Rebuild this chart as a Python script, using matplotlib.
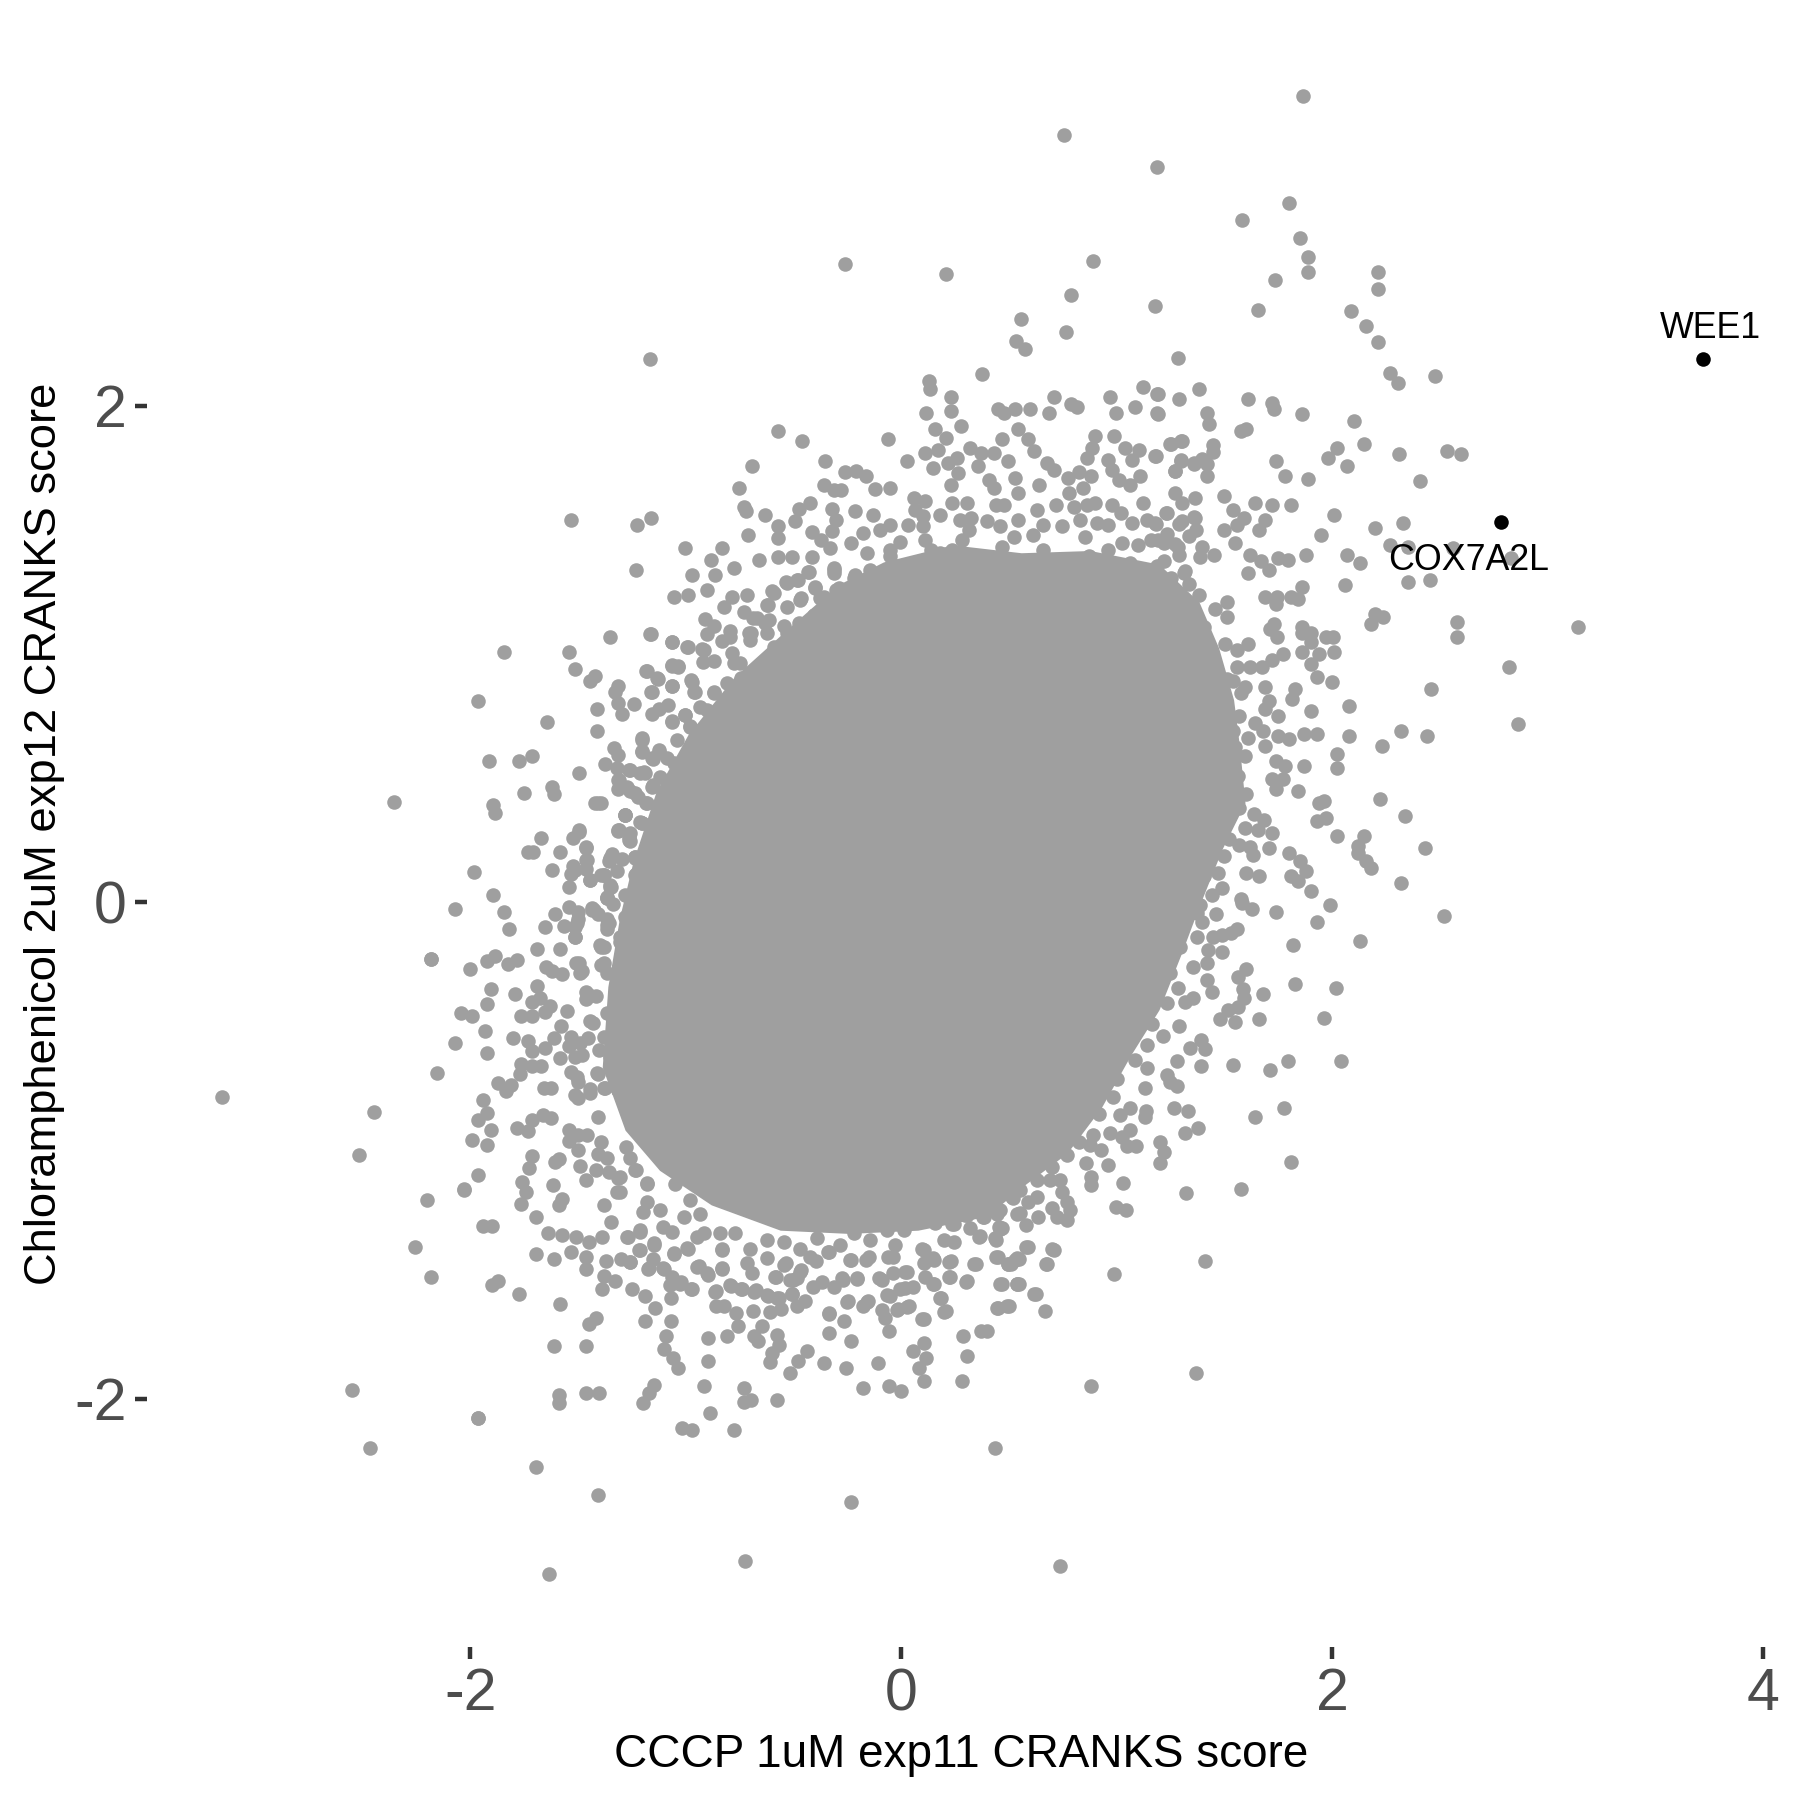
import numpy as np
import matplotlib
matplotlib.use("Agg")
import matplotlib.pyplot as plt

plt.rcParams['font.family'] = ['Liberation Sans', 'DejaVu Sans']

x_ticks = [-2, 0, 2, 4]
y_ticks = [-2, 0, 2]
x_tick_labels = ['-2', '0', '2', '4']
y_tick_labels = ['-2', '0', '2']
x_title = 'CCCP 1uM exp11 CRANKS score'
y_title = 'Chloramphenicol 2uM exp12 CRANKS score'

hit_names = ['WEE1', 'COX7A2L']
hit_x = [3.72, 2.786]
hit_y = [2.187, 1.531]
hit_label_x = [3.755, 2.632]
hit_label_y = [2.31, 1.377]

# the middle of the cloud is solid grey, single points can't be read there,
# so its outline is traced by eye and filled
core_x = [-.08, .24, .559, .879, 1.199, 1.385, 1.476, 1.545, 1.572, 1.598, 1.492, 1.385, 1.305, 1.199, 1.066, .932, .772,
          .559, .40, .08, -.24, -.559, -.879, -1.119, -1.279, -1.385, -1.359, -1.305, -1.241, -1.135, -.986, -.772, -.506, -.293]
core_y = [1.369, 1.438, 1.406, 1.415, 1.36, 1.207, 1.022, .814, .629, .398, .213, -.018, -.203, -.435, -.62, -.828, -1.013,
          -1.151, -1.267, -1.323, -1.336, -1.323, -1.221, -1.082, -.92, -.666, -.342, -.065, .166, .444, .675, .906, 1.114, 1.276]

outlier_pts = [
    (1.865, 3.246), (.757, 3.089), (1.188, 2.96), (1.80, 2.816), (1.582, 2.747), (1.849, 2.677), (1.886, 2.6),
    (1.886, 2.54), (.89, 2.585), (-.261, 2.571), (.208, 2.53), (1.737, 2.506), (2.211, 2.539), (2.211, 2.469),
    (.788, 2.446), (1.177, 2.4), (1.657, 2.386), (2.088, 2.381), (2.158, 2.321), (2.211, 2.257), (.554, 2.349),
    (.767, 2.298), (.533, 2.261), (.575, 2.229), (1.284, 2.192), (-1.167, 2.187), (2.27, 2.132), (2.307, 2.09),
    (2.477, 2.118), (2.52, -.055), (2.131, -.157), (2.019, -.347), (1.827, -.328), (1.961, -.467), (2.04, -.638),
    (1.795, -.638), (1.71, -.675), (1.54, -.657), (1.779, -.828), (1.641, -.865), (1.811, -1.045), (1.577, -1.156),
    (1.321, -1.17), (1.412, -1.447), (.986, -1.498), (1.369, -1.896), (.879, -1.947), (.437, -2.197), (.735, -2.673),
    (-.234, -2.414), (-.725, -2.654), (-1.636, -2.705), (-1.406, -2.386), (-1.694, -2.275), (-2.467, -2.197),
    (-2.547, -1.965), (-1.966, -2.076), (-3.154, -.786), (-2.445, -.846), (-2.515, -1.017), (-2.355, .402),
    (-2.184, -.227), (-2.152, -.689), (-2.2, -1.198), (-2.254, -1.387), (-2.184, -1.508), (-2.03, -1.156),
]

right_pts = [
    (1.380, 2.066), (1.190, 2.046), (1.290, 2.028), (1.190, 1.968), (1.609, 2.028), (1.719, 2.01), (1.730, 1.988),
    (1.861, 1.968), (1.419, 1.97), (1.430, 1.928), (2.100, 1.938), (1.578, 1.898), (1.601, 1.908), (2.150, 1.848),
    (2.021, 1.828), (1.980, 1.788), (2.071, 1.757), (2.309, 1.807), (2.531, 1.818), (2.600, 1.807), (2.409, 1.697),
    (1.738, 1.777), (1.780, 1.717), (1.890, 1.707), (1.247, 1.848), (1.301, 1.858), (1.182, 1.797), (1.449, 1.843),
    (1.449, 1.813), (1.299, 1.777), (1.270, 1.737), (1.357, 1.767), (1.395, 1.787), (1.419, 1.767), (1.419, 1.717),
    (1.499, 1.637), (1.640, 1.609), (1.719, 1.599), (1.809, 1.599), (1.540, 1.579), (1.592, 1.549), (1.559, 1.519),
    (1.499, 1.499), (1.690, 1.539), (1.659, 1.499), (1.549, 1.448), (2.009, 1.559), (1.950, 1.479), (2.200, 1.509),
    (2.329, 1.529), (2.269, 1.438), (2.352, 1.433), (2.560, 1.428), (2.829, 1.388), (1.877, 1.398), (2.071, 1.398),
    (2.130, 1.368), (2.352, 1.290), (2.452, 1.298), (2.059, 1.280), (1.617, 1.398), (1.671, 1.375), (1.748, 1.388),
    (1.794, 1.378), (1.609, 1.325), (1.709, 1.340), (1.861, 1.270), (1.688, 1.230), (1.742, 1.230), (1.809, 1.230),
    (1.842, 1.220), (1.738, 1.200), (1.511, 1.210), (1.457, 1.180), (1.511, 1.150), (2.200, 1.160), (2.234, 1.150),
    (2.180, 1.120), (2.581, 1.130), (2.581, 1.069), (3.141, 1.109), (1.730, 1.120), (1.713, 1.100), (1.742, 1.069),
    (1.861, 1.109), (1.861, 1.083), (1.902, 1.083), (1.902, 1.049), (1.973, 1.069), (2.003, 1.069), (2.009, 1.009),
    (1.940, .999), (1.861, 1.009), (1.902, .959), (1.930, .909), (1.999, .889), (2.821, .949), (2.461, .859),
    (2.080, .789), (2.862, .719), (2.321, .689), (2.440, .669), (2.080, .669), (2.231, .628), (2.021, .598),
    (2.021, .540), (1.871, .548), (1.930, .679), (1.871, .679), (1.800, .659), (1.748, .669), (1.900, .769),
    (1.751, .749), (1.709, .809), (1.690, .779), (1.815, .819), (1.830, .861), (1.690, .869), (1.690, .630),
    (1.640, .722), (1.678, .689), (1.738, .568), (1.780, .548), (1.771, .498), (1.719, .498), (1.738, .458),
    (1.842, .448), (1.601, .438), (2.221, .418), (2.340, .348), (1.940, .398), (1.963, .408), (1.930, .328),
    (1.973, .338), (2.021, .268), (2.150, .268), (2.119, .228), (2.119, .198), (2.159, .168), (2.180, .138),
    (2.431, .219), (2.321, .079), (1.800, .198), (1.851, .168), (1.880, .127), (1.811, .107), (1.840, .087),
    (1.900, .047), (1.709, .219), (1.499, .188), (1.469, .117), (1.601, .117), (1.659, .107), (1.490, .059),
]

right_band_pts = [
    (1.232, 1.567), (1.357, 1.550), (1.290, 1.525), (1.184, 1.525), (1.232, 1.484), (1.367, 1.500), (1.338, 1.475),
    (1.270, 1.442), (1.193, 1.458), (1.396, 1.433), (1.453, 1.397), (1.386, 1.392), (1.290, 1.400), (1.222, 1.375),
    (1.184, 1.342), (1.319, 1.333), (1.251, 1.308), (1.338, 1.283), (1.232, 1.266), (1.382, 1.238), (1.280, 1.225),
    (1.261, 1.191), (1.309, 1.166), (1.193, 1.150), (1.251, 1.116), (1.357, 1.116), (1.405, 1.108), (1.184, 1.083),
    (1.319, 1.041), (1.390, 1.041), (1.440, 1.016), (1.501, 1.041), (1.559, 1.016), (1.611, 1.041), (1.251, 1.008),
    (1.213, .957), (1.405, .953), (1.367, .924), (1.559, .949), (1.617, .949), (1.674, .949), (1.723, .974),
    (1.771, 1.000), (1.376, .849), (1.511, .899), (1.540, .891), (1.598, .866), (1.578, .841), (1.472, .849),
    (1.482, .790), (1.569, .749), (1.386, .774), (1.463, .724), (1.386, .707), (1.540, .690), (1.611, .660),
    (1.549, .624), (1.598, .590), (1.492, .582), (1.405, .598), (1.338, .540), (1.521, .515), (1.563, .507),
    (1.444, .507), (1.367, .440), (1.463, .448), (1.521, .406), (1.569, .381), (1.636, .356), (1.684, .331),
    (1.723, .281), (1.655, .290), (1.598, .298), (1.521, .256), (1.453, .269), (1.367, .256), (1.569, .231),
    (1.617, .223), (1.632, .189), (1.396, .173), (1.347, .198), (1.270, .206), (1.405, .106), (1.319, .122),
    (1.376, .064), (1.444, .031), (1.578, .014), (1.222, .089),
]

lower_right_pts = [
    (1.820, -.172), (1.681, -.370), (1.661, -.469), (1.601, -.269), (1.561, -.300), (1.588, -.351), (1.591, -.387),
    (1.565, -.421), (1.519, -.434), (1.480, -.469), (1.550, -.481), (1.390, -.658), (1.409, -.591), (1.390, -.555),
    (1.341, -.589), (1.290, -.499), (1.217, -.539), (1.280, -.640), (1.233, -.696), (1.248, -.723), (1.282, -.740),
    (1.130, -.750), (1.140, -.669), (1.086, -.636), (1.140, -.575), (1.163, -.491), (1.124, -.488), (1.268, -.830),
    (1.330, -.840), (1.379, -.910), (1.319, -.928), (1.135, -.840), (1.132, -.864), (1.062, -.830), (1.016, -.857),
    (1.062, -.918), (.969, -.928), (1.024, -.945), (1.047, -.982), (1.090, -.982), (1.200, -.965), (1.222, -1.008),
    (1.200, -1.052), (1.030, -1.130), (.997, -1.227), (1.042, -1.240), (.959, -1.060), (.928, -.998), (.880, -1.106),
    (.880, -1.139), (.860, -1.049), (.889, -.938), (.823, -.965), (.877, -.978), (.768, -1.018), (.920, -.851),
    (.858, -.844), (.985, -.783), (1.000, -.710), (.699, -1.398), (.580, -1.390), (.671, -1.459), (.536, -1.435),
    (.498, -1.458), (.539, -1.538), (.618, -1.576), (.768, -1.280), (.722, -1.267), (.784, -1.240), (.768, -1.206),
    (.745, -1.166), (.699, -1.233), (.637, -1.267), (.580, -1.300), (.552, -1.253), (.629, -1.186), (.590, -1.206),
    (.521, -1.193), (.552, -1.159), (.529, -1.112), (.590, -1.065), (.560, -1.032), (.629, -1.119), (.691, -1.119),
    (.737, -1.119), (.699, -1.065), (.660, -.998), (.467, -1.314), (.459, -1.240), (1.418, -.313), (1.441, -.360),
    (1.356, -.387), (1.318, -.401), (1.287, -.347), (1.248, -.286), (1.233, -.407), (1.418, -.246), (1.356, -.260),
    (1.488, -.199), (1.426, -.192), (1.372, -.139), (1.294, -.179), (1.449, -.139), (1.488, -.132), (1.529, -.125),
    (1.560, -.109), (1.302, -.098), (1.233, -.152), (1.217, -.239), (1.461, -.047), (1.395, -.078), (1.372, -.045),
    (1.318, -.007), (1.387, -.011), (1.627, -.029), (1.581, -.004), (1.929, -.081), (1.740, -.041), (1.991, -.011),
]

bottom_pts = [
    (-1.94, -1.306), (-1.901, -1.306), (-1.762, -1.215), (-1.693, -1.266), (-1.588, -1.218), (-1.380, -1.219),
    (-1.345, -1.288), (-1.639, -1.331), (-1.573, -1.339), (-1.511, -1.347), (-1.451, -1.367), (-1.390, -1.347),
    (-1.530, -1.407), (-1.461, -1.427), (-1.461, -1.478), (-1.693, -1.416), (-1.611, -1.438), (-1.370, -1.446),
    (-1.299, -1.438), (-1.258, -1.449), (-1.268, -1.347), (-1.210, -1.327), (-1.214, -1.400), (-1.148, -1.373),
    (-1.154, -1.438), (-1.175, -1.478), (-1.380, -1.505), (-1.330, -1.526), (-1.390, -1.557), (-1.901, -1.540),
    (-1.872, -1.526), (-1.772, -1.577), (-1.581, -1.618), (-1.251, -1.557), (-1.191, -1.588), (-1.141, -1.636),
    (-1.069, -1.596), (-1.189, -1.687), (-1.069, -1.687), (-1.451, -1.698), (-1.418, -1.675), (-1.611, -1.787),
    (-1.461, -1.787), (-1.090, -1.747), (-1.100, -1.800), (-1.058, -1.835), (-1.038, -1.877), (-.897, -1.756),
    (-.809, -1.747), (-.897, -1.847), (-.917, -1.948), (-1.148, -1.944), (-1.168, -1.977), (-1.200, -2.016),
    (-1.461, -1.977), (-1.401, -1.977), (-1.590, -1.984), (-1.590, -2.018), (-1.963, -2.077), (-.728, -1.957),
    (-.728, -2.015), (-.697, -2.007), (-.577, -2.007), (-.888, -2.058), (-1.019, -2.117), (-.969, -2.126),
    (-.778, -2.126), (-.859, -1.564), (-.859, -1.628), (-.820, -1.626), (-.766, -1.655), (-.758, -1.706),
    (-.687, -1.647), (-.646, -1.706), (-.685, -1.747), (-.666, -1.768), (-.577, -1.743), (-.569, -1.783),
    (-.598, -1.816), (-.608, -1.850), (-.477, -1.849), (-.438, -1.807), (-.515, -1.897), (-.357, -1.857),
    (-.257, -1.877), (-.106, -1.857), (-.176, -1.957), (-.056, -1.947), (0.0, -1.967), (.106, -1.928), (.085, -1.877),
    (.114, -1.836), (.056, -1.807), (.106, -1.776), (.280, -1.930), (.307, -1.827), (.288, -1.747), (.369, -1.728),
    (.400, -1.728), (-.056, -1.728), (-.235, -1.767), (-.336, -1.736), (-.264, -1.687), (-.334, -1.658),
    (-.075, -1.675), (-.087, -1.642), (-.176, -1.626), (-.154, -1.606), (-.245, -1.608), (-.015, -1.639),
    (.035, -1.626), (.106, -1.677), (.207, -1.647), (.187, -1.596), (-.052, -1.588), (.154, -1.537), (.019, -1.555),
    (.228, -1.508), (.307, -1.526), (.467, -1.537), (.546, -1.537), (.627, -1.577), (.450, -1.636), (.500, -1.626),
    (.666, -1.647), (.677, -1.457), (.708, -1.400), (.589, -1.387), (.546, -1.438), (.508, -1.457), (.448, -1.427),
    (.347, -1.457), (.438, -1.360), (.367, -1.344), (.457, -1.317), (.386, -1.266), (.307, -1.258), (.245, -1.296),
    (.106, -1.400), (.029, -1.488), (-.087, -1.521), (-.203, -1.518), (-.270, -1.521), (-.367, -1.528),
    (-.444, -1.608), (-.508, -1.577), (-.482, -1.628), (-.569, -1.595), (-.608, -1.649), (-.560, -1.639),
    (-.617, -1.588), (-.743, -1.559), (-.675, -1.561), (-.791, -1.545), (-.975, -1.559), (-1.023, -1.528),
    (-1.071, -1.541), (-1.100, -1.478), (-.897, -1.501), (-.830, -1.478), (-.830, -1.400), (-.936, -1.467),
    (-1.052, -1.414), (-.994, -1.394), (-.535, -1.454), (-.579, -1.508), (-.463, -1.483), (-.502, -1.521),
    (-.396, -1.447), (-.232, -1.441), (-.164, -1.441), (-.338, -1.407), (-.038, -1.427), (.154, -1.441), (.232, -1.447),
]

bottom_band_pts = [
    (-1.180, -1.133), (-1.234, -1.079), (-1.304, -1.106), (-1.304, -1.166), (-1.180, -1.207), (-1.196, -1.247),
    (-1.118, -1.240), (-1.103, -1.307), (-1.211, -1.321), (-1.273, -1.350), (-1.219, -1.401), (-1.149, -1.381),
    (-1.258, -1.448), (-1.172, -1.475), (-1.103, -1.475), (-1.056, -1.415), (-.987, -1.395), (-1.064, -1.327),
    (-1.010, -1.267), (-.933, -1.254), (-.979, -1.200), (-1.049, -1.133), (-1.010, -1.079), (-.917, -1.334),
    (-.948, -1.348), (-.832, -1.395), (-.840, -1.334), (-.770, -1.334), (-.948, -1.468), (-.902, -1.495),
    (-.832, -1.475), (-1.026, -1.536), (-.971, -1.556), (-1.064, -1.509), (-.793, -1.542), (-.863, -1.569),
    (-.739, -1.556), (-.685, -1.569), (-.716, -1.455), (-.693, -1.495), (-.701, -1.395), (-.623, -1.435),
    (-.546, -1.462), (-.585, -1.509), (-.623, -1.583), (-.577, -1.596), (-.507, -1.576), (-.484, -1.515),
    (-.515, -1.522), (-.469, -1.489), (-.407, -1.549), (-.422, -1.428), (-.546, -1.368), (-.623, -1.361),
    (-.469, -1.395), (-.391, -1.354), (-.337, -1.408), (-.283, -1.381), (-.221, -1.334), (-.345, -1.280),
    (-.237, -1.442), (-.151, -1.428), (-.144, -1.361), (-.206, -1.515), (-.275, -1.515), (-.314, -1.549),
    (-.252, -1.609), (-.337, -1.656), (-.159, -1.609), (-.105, -1.515), (-.036, -1.495), (.019, -1.489),
    (-.059, -1.428), (-.028, -1.381), (-.066, -1.321), (.011, -1.321), (.042, -1.260), (.099, -1.395), (.104, -1.455),
    (.111, -1.509), (.150, -1.435), (.220, -1.448), (.220, -1.509), (.243, -1.368), (.197, -1.361), (.166, -1.213),
    (.158, -1.294), (.235, -1.296), (.297, -1.258), (.382, -1.267), (.320, -1.314), (.359, -1.350), (.436, -1.354),
    (.452, -1.307), (.444, -1.254), (.289, -1.186), (.375, -1.186), (.514, -1.186), (.452, -1.119), (.537, -1.254),
    (.440, -1.428), (.498, -1.458), (.529, -1.442), (.339, -1.458), (.300, -1.529), (.460, -1.538), (.537, -1.538),
    (.150, -1.536), (.057, -1.549), (-.004, -1.556), (-.066, -1.583), (.026, -1.630), (-.020, -1.643), (.181, -1.593),
    (.200, -1.650), (.099, -1.679), (.444, -1.636), (.490, -1.627),
]

left_pts = [
    (-1.841, 1.008), (-1.542, 1.008), (-1.352, 1.069), (-1.164, 1.079), (-1.063, 1.048), (-.992, 1.028),
    (-1.512, .939), (-1.423, .910), (-1.445, .890), (-1.178, .930), (-1.129, .899), (-1.063, .956), (-1.036, .948),
    (-1.063, .871), (-.969, .887), (-1.962, .810), (-1.312, .871), (-1.329, .848), (-1.312, .802), (-1.294, .759),
    (-1.240, .800), (-1.413, .779), (-1.413, .689), (-1.642, .728), (-1.161, .848), (-1.081, .793), (-1.125, .779),
    (-1.155, .760), (-1.063, .729), (-1.001, .756), (-.979, .709), (-1.201, .663), (-1.205, .609), (-1.152, .578),
    (-1.122, .612), (-1.333, .622), (-1.312, .594), (-1.374, .558), (-1.320, .540), (-1.912, .569), (-1.773, .569),
    (-1.713, .589), (-1.493, .520), (-1.262, .532), (-1.214, .520), (-1.187, .520), (-1.312, .494), (-1.312, .458),
    (-1.258, .447), (-1.223, .424), (-1.182, .400), (-1.152, .471), (-1.622, .463), (-1.612, .438), (-1.752, .440),
    (-1.892, .390), (-1.883, .358), (-1.423, .401), (-1.395, .398), (-1.281, .350), (-1.203, .321), (-1.312, .290),
    (-1.258, .278), (-1.258, .247), (-1.672, .259), (-1.493, .290), (-1.521, .259), (-1.462, .219), (-1.462, .170),
    (-1.734, .201), (-1.708, .201), (-1.582, .201), (-1.620, .130), (-1.521, .147), (-1.534, .112), (-1.462, .132),
    (-1.342, .193), (-1.356, .167), (-1.294, .173), (-1.235, .182), (-1.232, .112), (-1.320, .124), (-1.391, .108),
    (-1.445, .088), (-1.542, .062), (-1.983, .121), (-1.892, .030), (-2.072, -.029), (-1.843, -.040), (-1.821, -.109),
    (-1.605, -.049), (-1.652, -.100), (-1.542, -.018), (-1.498, -.038), (-1.436, -.023), (-1.409, -.046),
    (-1.365, -.069), (-1.365, -.107), (-1.565, -.095), (-1.516, -.138), (-1.498, -.069), (-1.347, .062),
    (-1.365, .016), (-1.338, -.007), (-2.184, -.229), (-2.002, -.268), (-1.922, -.238), (-1.883, -.218),
    (-1.823, -.249), (-1.782, -.231), (-1.692, -.189), (-1.582, -.189), (-1.649, -.261), (-1.622, -.277),
    (-1.573, -.289), (-1.510, -.246), (-1.480, -.277), (-1.395, -.180), (-1.391, -.254), (-1.903, -.349),
    (-1.793, -.368), (-1.692, -.338), (-1.921, -.408), (-1.711, -.400), (-1.676, -.385), (-1.631, -.419),
    (-1.654, -.442), (-1.553, -.439), (-1.462, -.362), (-1.462, -.389), (-1.418, -.377), (-2.043, -.448),
    (-1.992, -.459), (-1.764, -.459), (-1.711, -.459), (-1.578, -.497), (-1.933, -.519), (-1.803, -.548),
    (-1.732, -.557), (-1.711, -.600), (-1.653, -.588), (-1.612, -.548), (-1.534, -.543), (-1.445, -.477),
    (-1.454, -.546), (-2.072, -.568), (-1.921, -.608), (-1.582, -.627), (-1.542, -.577), (-1.480, -.616),
    (-1.764, -.650), (-1.711, -.659), (-1.670, -.659), (-1.771, -.693), (-1.530, -.685), (-1.409, -.690),
    (-1.871, -.728), (-1.809, -.736), (-1.832, -.762), (-1.658, -.748), (-1.626, -.748), (-1.502, -.724),
    (-1.445, -.754), (-1.377, -.747), (-1.312, -.758), (-1.502, -.788), (-1.942, -.798), (-1.921, -.850),
    (-1.962, -.878), (-1.903, -.918), (-1.992, -.958), (-1.921, -.978), (-1.782, -.909), (-1.732, -.921),
    (-1.711, -.878), (-1.663, -.855), (-1.626, -.868), (-1.542, -.916), (-1.542, -.963), (-1.498, -.936),
    (-1.459, -.936), (-1.502, -.999), (-1.711, -1.024), (-1.725, -1.070), (-1.608, -1.047), (-1.587, -1.036),
    (-1.962, -1.097), (-1.761, -1.127), (-1.743, -1.167), (-1.614, -1.137), (-2.031, -1.158), (-1.462, -1.117),
    (-1.489, -1.063), (-1.418, -1.078), (-1.356, -1.086), (-1.312, -1.109), (-1.320, -1.167), (-1.409, -.865),
    (-1.391, -.967), (-1.409, -1.016), (-1.365, -1.029), (-1.276, -.986), (-1.258, -1.032), (-1.232, -1.078),
    (-1.178, -1.132), (-1.573, -1.194), (-1.214, -.528),
]

left_band_pts = [
    (-1.405, .399), (-1.281, .352), (-1.203, .321), (-1.312, .288), (-1.265, .251), (-1.497, .284), (-1.462, .221),
    (-1.343, .184), (-1.234, .184), (-1.459, .170), (-1.513, .130), (-1.381, .110), (-1.443, .090), (-1.350, .063),
    (-1.366, .016), (-1.435, -.031), (-1.505, -.085), (-1.366, -.092), (-1.513, -.139), (-1.381, -.179),
    (-1.304, -.139), (-1.497, -.246), (-1.381, -.246), (-1.490, -.286), (-1.304, -.327), (-1.366, -.286),
    (-1.451, -.374), (-1.428, -.488), (-1.304, -.407), (-1.366, -.447), (-1.490, -.568), (-1.281, -.541),
    (-1.381, -.541), (-1.211, -.528), (-1.404, -.595), (-1.513, -.622), (-1.412, -.689), (-1.350, -.622),
    (-1.242, -.662), (-1.505, -.703), (-1.443, -.770), (-1.374, -.750), (-1.312, -.756), (-1.513, -.777),
]

top_pts = [
    (.377, 2.128), (.129, 2.098), (.136, 2.067), (.229, 2.037), (.229, 1.978), (.117, 1.970), (.279, 1.918),
    (.159, 1.907), (.448, 1.987), (.479, 1.970), (.529, 1.987), (.598, 1.987), (.688, 1.970), (.710, 2.037),
    (.790, 2.008), (.817, 1.997), (.969, 2.037), (.998, 1.970), (1.087, 1.997), (1.121, 2.077), (1.189, 2.048),
    (1.189, 1.970), (.540, 1.907), (.467, 1.868), (.588, 1.868), (.617, 1.816), (-.062, 1.868), (-.572, 1.898),
    (-.462, 1.859), (-.352, 1.778), (-.693, 1.758), (-.753, 1.669), (-.260, 1.735), (-.210, 1.739), (-.162, 1.718),
    (-.360, 1.679), (-.312, 1.661), (-.277, 1.661), (-.120, 1.664), (-.052, 1.668), (.207, 1.869), (.169, 1.822),
    (.111, 1.809), (.029, 1.778), (.150, 1.751), (.217, 1.769), (.259, 1.789), (.265, 1.728), (.229, 1.679),
    (.319, 1.829), (.371, 1.809), (.433, 1.809), (.498, 1.778), (.358, 1.758), (.409, 1.702), (.429, 1.668),
    (.529, 1.711), (.679, 1.769), (.708, 1.742), (.640, 1.681), (.775, 1.708), (.881, 1.718), (.823, 1.735),
    (.863, 1.789), (.887, 1.829), (.900, 1.879), (.990, 1.879), (1.040, 1.829), (1.102, 1.822), (1.073, 1.782),
    (.958, 1.782), (.977, 1.742), (1.010, 1.702), (1.060, 1.679), (1.110, 1.718), (1.179, 1.798), (1.250, 1.847),
    (1.298, 1.860), (1.298, 1.782), (1.269, 1.738), (1.358, 1.769), (1.271, 1.648), (.779, 1.648), (.842, 1.668),
    (.059, 1.628), (.111, 1.618), (.236, 1.608), (.307, 1.608), (.182, 1.559), (-.133, 1.559), (-.212, 1.578),
    (-.322, 1.583), (-.302, 1.541), (-.322, 1.496), (-.422, 1.608), (-.476, 1.583), (-.491, 1.537), (-.633, 1.559),
    (-.731, 1.594), (-.722, 1.575), (-.572, 1.514), (-.572, 1.467), (-.712, 1.479), (-.412, 1.491), (-.370, 1.460),
    (-.331, 1.426), (-.832, 1.426), (-1.001, 1.428), (-.883, 1.380), (-.774, 1.347), (-.662, 1.380), (-.572, 1.389),
    (-.508, 1.389), (-.412, 1.389), (-1.232, 1.339), (-1.532, 1.541), (-1.224, 1.519), (-1.162, 1.547),
    (-.972, 1.319), (-.862, 1.319), (-.903, 1.259), (-1.053, 1.228), (-.991, 1.239), (-.431, 1.330), (-.479, 1.299),
    (-.533, 1.290), (-.601, 1.252), (-.716, 1.239), (-.783, 1.228), (-.822, 1.189), (-.731, 1.169), (-.912, 1.141),
    (-.870, 1.111), (-.903, 1.080), (-.687, 1.145), (-.620, 1.198), (-1.162, 1.080), (-1.062, 1.049), (-.991, 1.029),
    (-.922, 1.021), (-.918, .968), (-.870, .970), (-.793, 1.091), (-.832, 1.051), (-.783, 1.004), (-.774, .964),
    (-.697, 1.084), (-.701, 1.057), (-.630, 1.125), (-1.062, .950), (-1.034, .950), (-1.182, .930), (-1.134, .903),
    (-1.155, .849), (-1.062, .870), (-.976, .896), (-.957, .849), (-.870, .849), (-.745, .903), (-.668, .937),
    (-.630, .883), (-.543, 1.111), (-.476, 1.125), (-.399, 1.272), (-.379, 1.225), (-.466, 1.225), (-.302, 1.178),
    (-.245, 1.192), (-.302, 1.259), (-.206, 1.245), (-.216, 1.319), (-.312, 1.326), (-.312, 1.346), (-.235, 1.447),
    (-.177, 1.487), (-.100, 1.500), (-.052, 1.520), (-.004, 1.453), (-.158, 1.406), (-.052, 1.393), (.063, 1.366),
    (.111, 1.460), (.140, 1.420), (.179, 1.406), (.236, 1.420), (.063, 1.581), (.102, 1.554), (.034, 1.520),
    (.102, 1.514), (.275, 1.541), (.323, 1.547), (.313, 1.500), (.284, 1.460), (.400, 1.534), (.438, 1.601),
    (.477, 1.601), (.458, 1.514), (.544, 1.541), (.544, 1.648), (.631, 1.581), (.717, 1.601), (.660, 1.520),
    (.746, 1.514), (.525, 1.473), (.611, 1.480), (.467, 1.433), (.660, 1.420), (.804, 1.594), (.862, 1.601),
    (.900, 1.608), (.977, 1.601), (1.021, 1.567), (.829, 1.541), (.910, 1.527), (.958, 1.520), (1.073, 1.527),
    (1.141, 1.541), (1.179, 1.527), (1.121, 1.608), (1.231, 1.567), (1.304, 1.534), (1.362, 1.547), (1.304, 1.608),
    (1.362, 1.628), (.852, 1.473), (.958, 1.420), (1.025, 1.447), (1.098, 1.440), (1.218, 1.447), (1.285, 1.433),
    (1.160, 1.460), (.602, 1.353), (.871, 1.393), (1.064, 1.366), (1.189, 1.353), (1.314, 1.326), (1.035, 1.299),
    (.892, 1.286), (1.256, 1.259), (1.275, 1.192), (1.141, 1.259),
]

upper_left_band_pts = [
    (-.917, 1.016), (-.793, 1.070), (-.747, .962), (-.654, .936), (-.808, .882), (-.870, .842), (-.963, .848),
    (-.932, .788), (-1.002, .754), (-.979, .707), (-.901, .774), (-1.064, .727), (-1.041, .653), (-.963, .627),
    (-.901, .687), (-1.203, .653), (-1.203, .606), (-1.126, .606), (-1.087, .580), (-1.157, .580), (-1.056, .559),
    (-.963, .559), (-.901, .506), (-.870, .479), (-1.041, .506), (-1.118, .506), (-1.157, .465), (-1.087, .425),
    (-1.118, .371), (-1.133, .345), (-1.071, .345), (-1.102, .277), (-1.172, .251), (-1.118, .210), (-1.234, .177),
    (-1.172, .130), (-1.133, .143), (-1.350, .177), (-1.381, .110), (-1.234, .110), (-1.350, .069), (-1.280, .029),
    (-1.365, .022), (-1.427, -.031), (-1.358, -.085), (-1.280, -.058), (-1.195, .009), (-1.512, -.099),
    (-1.396, -.172), (-1.304, -.159), (-1.311, .291), (-1.265, .264), (-1.211, .324), (-1.280, .351), (-1.180, .398),
    (-1.234, .439), (-1.273, .465), (-1.311, .492), (-1.257, .533), (-1.195, .526), (-.708, 1.083), (-.669, 1.144),
    (-.592, 1.030), (-.530, 1.083), (-.468, 1.097), (-.530, 1.191), (-.592, 1.244), (-.623, 1.197), (-.468, 1.218),
    (-.399, 1.265), (-.360, 1.231), (-.290, 1.265), (-.314, 1.338), (-.221, 1.305), (-.143, 1.338), (-.213, 1.244),
    (-.128, 1.244), (-.050, 1.419), (.104, 1.352), (-.298, 1.177), (-.406, 1.157), (-.429, 1.332), (-.484, 1.298),
    (-.530, 1.285), (-.623, 1.083), (-.615, 1.137),
]


def main():
    fig = plt.figure(figsize=(6, 6), dpi=300)
    ax = fig.add_axes([147 / 1800, 1 - 1647 / 1800, 1629 / 1800, 1626 / 1800])

    gray = np.array(outlier_pts + right_pts + right_band_pts + lower_right_pts + bottom_pts + bottom_band_pts
                    + left_pts + left_band_pts + top_pts + upper_left_band_pts)
    ax.fill(core_x, core_y, color='#9F9F9F', lw=0, zorder=1)
    ax.scatter(gray[:, 0], gray[:, 1], s=12.2, color='#9F9F9F', linewidths=0, zorder=2)
    ax.scatter(hit_x, hit_y, s=12.2, color='black', linewidths=0, zorder=3)
    for name, lx, ly in zip(hit_names, hit_label_x, hit_label_y):
        ax.text(lx, ly, name, fontsize=8.6, color='black', ha='center', va='center', zorder=4)

    ax.set_xlim(-3.5, 4.06)
    ax.set_ylim(-3.0, 3.55)
    ax.set_xticks(x_ticks)
    ax.set_xticklabels(x_tick_labels)
    ax.set_yticks(y_ticks)
    ax.set_yticklabels(y_tick_labels)
    ax.tick_params(length=2.9, width=1.07, color='#333333', labelcolor='#4D4D4D', labelsize=14.2, pad=2)
    ax.set_xlabel(x_title, fontsize=11, color='black', labelpad=2.5)
    ax.set_ylabel(y_title, fontsize=10.9, color='black', labelpad=2.2)
    for spine in ax.spines.values():
        spine.set_visible(False)

    fig.savefig('out.png', dpi=300)


if __name__ == "__main__":
    main()
